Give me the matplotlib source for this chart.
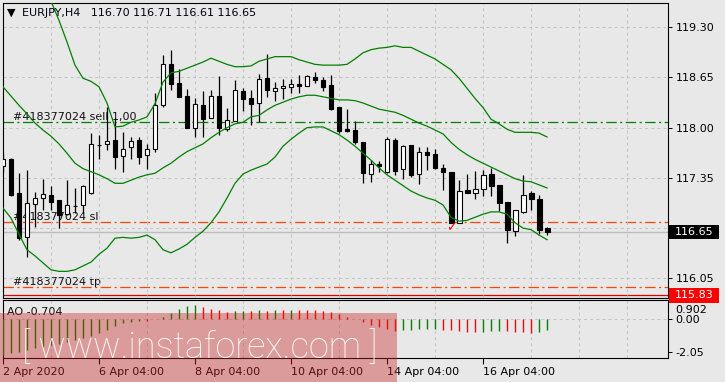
import numpy as np
import matplotlib
matplotlib.use("Agg")
import matplotlib.pyplot as plt
from matplotlib.patches import Rectangle
import matplotlib.transforms as mtransforms

plt.rcParams['font.family'] = ['DejaVu Sans']
plt.rcParams['lines.scale_dashes'] = False

# ---------------- data ----------------
header_symbol = "EURJPY,H4"
header_ohlc = ["116.70", "116.71", "116.61", "116.65"]

opens = [117.50, 117.59, 117.15, 116.59, 117.01, 117.09, 117.13, 117.06, 116.88, 116.99,
         117.00, 117.16, 117.77, 117.79, 117.84, 117.63, 117.75, 117.84, 117.65, 117.72,
         118.30, 118.82, 118.58, 118.41, 118.00, 118.29, 118.13, 118.41, 117.98, 118.09,
         118.48, 118.39, 118.32, 118.64, 118.48, 118.51, 118.53, 118.57, 118.54, 118.65,
         118.62, 118.55, 118.27, 117.98, 117.97, 117.82, 117.40, 117.53, 117.43, 117.84,
         117.46, 117.78, 117.40, 117.68, 117.66, 117.48, 117.43, 116.77, 117.19, 117.16,
         117.21, 117.40, 117.26, 117.04, 116.66, 116.91, 117.15, 117.08, 116.70]
highs = [117.68, 117.61, 117.41, 117.45, 117.17, 117.34, 117.24, 117.07, 117.32, 117.22,
         117.26, 117.93, 117.91, 118.27, 118.13, 117.94, 117.88, 117.88, 117.79, 118.45,
         118.94, 119.01, 118.76, 118.50, 118.38, 118.48, 118.49, 118.67, 118.25, 118.62,
         118.51, 118.49, 118.70, 118.96, 118.59, 118.63, 118.63, 118.68, 118.68, 118.72,
         118.65, 118.68, 118.27, 118.24, 118.09, 117.82, 117.58, 117.57, 117.88, 117.87,
         117.78, 117.78, 117.75, 117.75, 117.73, 117.53, 117.43, 117.32, 117.40, 117.44,
         117.45, 117.48, 117.26, 117.04, 116.94, 117.39, 117.18, 117.13, 116.71]
lows = [117.43, 117.11, 116.55, 116.33, 116.72, 116.93, 116.93, 116.70, 116.87, 116.89,
        116.89, 117.14, 117.60, 117.71, 117.47, 117.42, 117.60, 117.53, 117.47, 117.69,
        118.27, 118.49, 118.40, 118.00, 117.88, 117.88, 118.13, 117.91, 117.96, 118.09,
        118.21, 118.04, 118.08, 118.40, 118.35, 118.37, 118.45, 118.45, 118.54, 118.58,
        118.47, 118.23, 117.93, 117.95, 117.79, 117.28, 117.30, 117.43, 117.41, 117.39,
        117.34, 117.36, 117.27, 117.45, 117.46, 117.19, 116.76, 116.77, 117.16, 117.08,
        117.12, 117.12, 116.92, 116.51, 116.60, 116.89, 116.93, 116.62, 116.61]
closes = [117.60, 117.13, 116.57, 117.02, 117.09, 117.14, 117.04, 116.87, 117.00, 116.98,
          117.24, 117.79, 117.78, 117.83, 117.62, 117.73, 117.83, 117.62, 117.73, 118.29,
          118.83, 118.56, 118.40, 118.00, 118.31, 118.11, 118.41, 117.99, 118.10, 118.49,
          118.37, 118.31, 118.63, 118.49, 118.52, 118.54, 118.57, 118.54, 118.67, 118.62,
          118.53, 118.24, 117.96, 117.96, 117.82, 117.41, 117.53, 117.50, 117.85, 117.44,
          117.76, 117.39, 117.69, 117.65, 117.48, 117.43, 116.77, 117.18, 117.16, 117.21,
          117.39, 117.24, 117.03, 116.67, 116.93, 117.13, 117.08, 116.68, 116.65]

bb_upper = [np.nan, np.nan, np.nan, np.nan, 120.24, 119.95, 119.64, 119.39, 119.11, 118.81,
            118.64, 118.60, 118.53, 118.32, 118.01, 118.02, 118.07, 118.10, 118.14, 118.31,
            118.59, 118.71, 118.73, 118.77, 118.81, 118.85, 118.90, 118.86, 118.82, 118.79,
            118.79, 118.80, 118.86, 118.89, 118.92, 118.92, 118.92, 118.88, 118.85, 118.82,
            118.81, 118.81, 118.81, 118.82, 118.89, 118.97, 119.01, 119.03, 119.04, 119.06,
            119.04, 119.04, 118.99, 118.94, 118.89, 118.82, 118.75, 118.64, 118.51, 118.38,
            118.26, 118.11, 118.05, 117.98, 117.94, 117.94, 117.94, 117.93, 117.88]
bb_middle = [118.53, 118.41, 118.29, 118.18, 118.06, 117.97, 117.89, 117.79, 117.67, 117.54,
             117.47, 117.43, 117.39, 117.34, 117.28, 117.28, 117.32, 117.36, 117.39, 117.41,
             117.48, 117.54, 117.62, 117.69, 117.74, 117.79, 117.87, 117.94, 118.00, 118.05,
             118.07, 118.14, 118.16, 118.23, 118.29, 118.33, 118.37, 118.40, 118.42, 118.42,
             118.40, 118.38, 118.36, 118.36, 118.35, 118.32, 118.28, 118.24, 118.22, 118.20,
             118.16, 118.11, 118.06, 118.02, 117.97, 117.92, 117.81, 117.72, 117.65, 117.59,
             117.54, 117.49, 117.44, 117.39, 117.34, 117.31, 117.30, 117.26, 117.22]
bb_lower = [116.96, 116.83, 116.62, 116.42, 116.34, 116.25, 116.16, 116.14, 116.14, 116.16,
            116.21, 116.26, 116.36, 116.44, 116.57, 116.58, 116.57, 116.58, 116.61, 116.55,
            116.42, 116.38, 116.43, 116.49, 116.58, 116.66, 116.77, 116.91, 117.09, 117.28,
            117.40, 117.45, 117.49, 117.53, 117.62, 117.76, 117.85, 117.93, 118.00, 118.01,
            118.01, 117.96, 117.91, 117.84, 117.76, 117.67, 117.58, 117.48, 117.39, 117.32,
            117.25, 117.18, 117.13, 117.09, 117.06, 117.00, 116.84, 116.79, 116.80, 116.84,
            116.88, 116.91, 116.91, 116.88, 116.77, 116.70, 116.68, 116.61, 116.55]

ao_values = [-2.26, -2.11, -2.05, -1.94, -1.84, -1.77, -1.62, -1.56, -1.41, -1.31,
             -1.16, -1.03, -0.89, -0.68, -0.42, -0.25, -0.15, -0.08, -0.12, 0.02,
             0.17, 0.42, 0.63, 0.84, 0.90, 0.76, 0.63, 0.60, 0.49, 0.52,
             0.55, 0.53, 0.57, 0.55, 0.62, 0.60, 0.62, 0.60, 0.59, 0.57,
             0.55, 0.49, 0.34, 0.17, 0.02, -0.15, -0.36, -0.51, -0.63, -0.72,
             -0.68, -0.66, -0.63, -0.62, -0.60, -0.65, -0.70, -0.76, -0.80, -0.82,
             -0.78, -0.76, -0.72, -0.76, -0.78, -0.83, -0.85, -0.80, -0.704]
ao_rising = [1, 1, 1, 1, 1, 1, 1, 1, 1, 1,
             1, 1, 1, 1, 1, 1, 1, 1, 0, 1,
             1, 1, 1, 1, 1, 0, 0, 0, 0, 1,
             1, 0, 1, 0, 1, 0, 1, 0, 0, 0,
             0, 0, 0, 0, 0, 0, 0, 0, 0, 0,
             1, 1, 1, 1, 1, 0, 0, 0, 0, 0,
             1, 1, 1, 0, 0, 0, 0, 1, 1]

price_ticks = [116.05, 116.70, 117.35, 118.00, 118.65, 119.30]
hidden_tick = 116.70          # covered by the bid price box in the original
ao_ticks = [0.0, -2.05]
ao_top_label = "0.902"
time_tick_idx = [0, 12, 24, 36, 48, 60]
time_tick_labels = ["2 Apr 2020", "6 Apr 04:00", "8 Apr 04:00", "10 Apr 04:00",
                    "14 Apr 04:00", "16 Apr 04:00"]

order_id = "#418377024"
sell_price = 118.08
sl_price = 116.78
tp_price = 115.94
bid_price = 116.65
red_level = 115.83
close_mark_idx = 56
close_mark_price = 116.70
ao_title = "AO -0.704"
watermark = "[ www.instaforex.com ]"

# ---------------- styling ----------------
BG = '#e8e8e8'
GRID = '#c6c6c6'
GREEN = '#008000'
ORANGE = '#ff4500'
W, H = 725, 382


def frame(x0, y0, x1, y1):
    return [x0 / W, 1 - y1 / H, (x1 - x0) / W, (y1 - y0) / H]


fig = plt.figure(figsize=(W / 100, H / 100), dpi=100, facecolor=BG)
ax = fig.add_axes(frame(2.5, 2.5, 668, 298), facecolor=BG)
ax2 = fig.add_axes(frame(2.5, 300, 668, 357.7), facecolor=BG)

x = np.arange(len(opens))
xmin, xmax = -0.06, 83.12
for a in (ax, ax2):
    a.set_xlim(xmin, xmax)
    for s in a.spines.values():
        s.set_linewidth(0.8)
        s.set_color('black')
    a.set_xticks(np.arange(0, 84, 6), minor=True)
    a.grid(which='minor', axis='x', color=GRID, lw=0.75, linestyle=(0, (2.2, 2.2)), zorder=0)
    a.tick_params(which='minor', length=0)
    a.yaxis.tick_right()
    a.tick_params(axis='y', which='major', direction='out', length=3, width=0.7,
                  pad=2.5, labelsize=8, colors='black')

ax.set_ylim(115.795, 119.621)
ax.set_yticks(price_ticks)
ax.set_yticklabels(["" if v == hidden_tick else f"{v:.2f}" for v in price_ticks])
ax.grid(which='major', axis='y', color=GRID, lw=0.75, linestyle=(0, (2.2, 2.2)), zorder=0)
ax.set_xticks([])

# horizontal levels
dashdot = (0, (7.5, 2.5, 1.5, 2.5))
ax.axhline(bid_price, color='#bcbcbc', lw=1.0, zorder=1)
ax.axhline(sell_price, color=GREEN, lw=0.9, linestyle=dashdot, zorder=1)
ax.axhline(sl_price, color=ORANGE, lw=0.9, linestyle=dashdot, zorder=1)
ax.axhline(tp_price, color=ORANGE, lw=0.9, linestyle=dashdot, zorder=1)
ax.axhline(red_level, color='#e00000', lw=0.9, zorder=1)

# order labels
for txt, lvl in [(f"{order_id} sell 1,00", sell_price), (f"{order_id} sl", sl_price),
                 (f"{order_id} tp", tp_price)]:
    ax.text(1.2, lvl, txt, fontsize=8, color='#101010', ha='left', va='bottom', zorder=1.5)

# candles
for i in x:
    o, h, l, c = opens[i], highs[i], lows[i], closes[i]
    ax.vlines(i, l, h, color='black', lw=0.9, zorder=3)
    up = c >= o
    ax.bar(i, max(abs(c - o), 0.004), bottom=min(o, c), width=0.62,
           color='white' if up else 'black', edgecolor='black', lw=0.8, zorder=3.5)

# bollinger bands
for band in (bb_upper, bb_middle, bb_lower):
    ax.plot(x, band, color=GREEN, lw=0.9, zorder=4)

# close marker
ax.text(close_mark_idx, close_mark_price, "\u2713", color='#ff0000', fontsize=9,
        ha='center', va='center', zorder=5)

# header
fig.text(6.5 / W, 1 - 12.5 / H, "\u25BC", fontsize=8, ha='left', va='center', color='black')
fig.text(21.5 / W, 1 - 13 / H, header_symbol + "   " + " ".join(header_ohlc),
         fontsize=8, ha='left', va='center', color='#000010')

# price boxes on right
trans = mtransforms.blended_transform_factory(ax.transAxes, ax.transData)
box_h = 14.7 / 77.23
for lvl, fc in [(bid_price, 'black'), (red_level, '#ff0000')]:
    ax.add_patch(Rectangle((1.0015, lvl - box_h / 2), 50 / 665.5, box_h, transform=trans,
                           facecolor=fc, edgecolor='none', clip_on=False, zorder=6))
    ax.text(1.0105, lvl, f"{lvl:.2f}", transform=trans, color='white', fontsize=8,
            ha='left', va='center', zorder=7, clip_on=False)

# AO panel
ax2.set_ylim(-2.43, 1.222)
ax2.set_yticks(ao_ticks)
ax2.set_yticklabels([f"{v:.2f}" for v in ao_ticks])
ax2.axhline(0, color=GRID, lw=0.75, linestyle=(0, (2.2, 2.2)), zorder=0)
cols = [GREEN if r else '#ff0000' for r in ao_rising]
ax2.vlines(x, 0, ao_values, colors=cols, lw=1.0, zorder=3)
ax2.text(1.0105, 0.62, ao_top_label,
         transform=mtransforms.blended_transform_factory(ax2.transAxes, ax2.transData),
         fontsize=8, ha='left', va='center', clip_on=False)
ax2.text(0.5, 1.222 - 0.75, ao_title, fontsize=8, ha='left', va='center', color='#101010')
ax2.set_xticks(time_tick_idx)
ax2.set_xticklabels(time_tick_labels)
ax2.tick_params(axis='x', which='major', direction='out', length=4, width=0.8,
                pad=3, labelsize=8, colors='black')
for lab in ax2.get_xticklabels():
    lab.set_horizontalalignment('left')

# watermark
fig.add_artist(Rectangle((0, 0), 397 / W, 69 / H, transform=fig.transFigure,
                         facecolor='#c82828', alpha=0.40, edgecolor='none', zorder=10))
fig.text(22 / W, 1 - 358 / H, watermark, fontsize=26, color='white', ha='left',
         va='baseline', zorder=11, family=['Roboto', 'DejaVu Sans'], fontweight='light',
         alpha=0.95)

fig.savefig('out.png', dpi=100, facecolor=BG)
